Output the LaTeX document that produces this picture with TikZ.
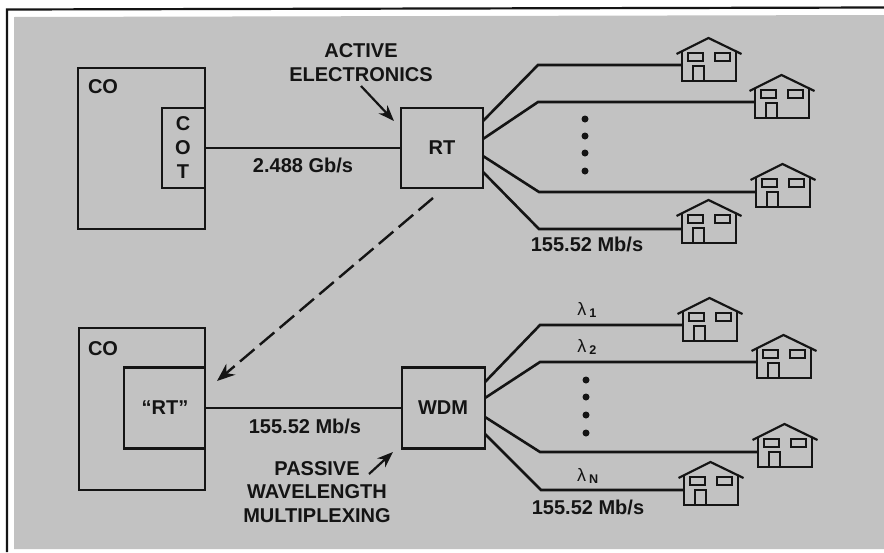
\documentclass[tikz,border=0pt]{standalone}
\usepackage{fontspec}
\setmainfont{Liberation Sans}
\usetikzlibrary{arrows.meta,calc}
\definecolor{paper}{gray}{0.76}
\definecolor{ink}{gray}{0.08}
\tikzset{
  wire/.style={draw=ink,line width=2.6pt,line join=miter},
  boxn/.style={draw=ink,line width=2.6pt,inner sep=0pt,outer sep=0pt,minimum width=#1},
  lab/.style={font=\fontsize{20}{23.5}\selectfont\bfseries,text=ink,inner sep=0pt,align=center},
  lam/.style={font=\fontsize{18}{20}\selectfont,text=ink,inner sep=0pt},
  dotn/.style={circle,fill=ink,minimum size=7pt,inner sep=0pt},
  pointer/.style={draw=ink,line width=2.2pt,-{Stealth[length=16pt,width=12pt]}},
  dashptr/.style={draw=ink,line width=2.4pt,dash pattern=on 19pt off 7pt,-{Stealth[length=18pt,width=14pt]}}
}
% house: #1 name, #2 x, #3 y of bottom-left wall corner; wall attach point = coordinate #1
\newcommand{\homeicon}[3]{%
  \begin{scope}[shift={(#2,#3)}]
    \draw[wire,line width=2.2pt] (0,-29) -- (0,0) -- (54,0) -- (54,-29);
    \draw[wire,line width=2.2pt] (-5.5,-27) -- (26.5,-43) -- (59.5,-27);
    \draw[wire,line width=2pt] (5.7,-28) rectangle (21,-20);
    \draw[wire,line width=2pt] (32.7,-28) rectangle (47.7,-20);
    \draw[wire,line width=2pt] (10.7,0) -- (10.7,-15) -- (21.7,-15) -- (21.7,0);
  \end{scope}}
\begin{document}
\begin{tikzpicture}[x=1pt,y=-1pt]
\useasboundingbox (0,0) rectangle (884,552);
\fill[white] (0,0) rectangle (884,552);
\fill[paper] (14,17) -- (884,15) -- (884,549) -- (14,549) -- cycle;
\draw[ink,line width=2.2pt] (7,552) -- (7,9.5) -- (884,7.5);

% top row
\node[boxn=127pt,minimum height=161pt] (coa) at (141.5,148.5) {};
\node[boxn=43pt,minimum height=80pt] (cot) at (183.5,148) {};
\node[boxn=82pt,minimum height=80pt] (rta) at (442,148) {};
\node[lab] (coal) at (103,87) {CO};
\node[lab] (cotc) at (183,124) {C};
\node[lab] (coto) at (183,148) {O};
\node[lab] (cott) at (183,172) {T};
\node[lab] (rtal) at (442,148) {RT};
\node[lab] (act) at (361,62.5) {ACTIVE\\ELECTRONICS};
\node[lab] (rate1) at (303,165) {2.488 Gb/s};
\node[lab] (rate2) at (587,244) {155.52 Mb/s};
\draw[wire] (cot.east) -- (rta.west);
\coordinate (ptra) at (361,86);
\coordinate (ptrb) at (394,121);
\draw[pointer] (ptra) -- (ptrb);

\homeicon{h1}{682}{81}
\homeicon{h2}{755}{118}
\homeicon{h3}{756}{207}
\homeicon{h4}{682}{243}
\coordinate (h1) at (682,65); \coordinate (h2) at (755,102);
\coordinate (h3) at (756,192); \coordinate (h4) at (682,229);
\coordinate (a1) at (483,121); \coordinate (a2) at (483,139);
\coordinate (a3) at (483,156); \coordinate (a4) at (483,172);
\draw[wire] (a1) -- (538,65) -- (h1);
\draw[wire] (a2) -- (538,102) -- (h2);
\draw[wire] (a3) -- (539,192) -- (h3);
\draw[wire] (a4) -- (539,229) -- (h4);
\node[dotn] (d1) at (585,119) {};
\node[dotn] (d2) at (585,136) {};
\node[dotn] (d3) at (585,153) {};
\node[dotn] (d4) at (585,171) {};

% dashed move arrow
\coordinate (mva) at (433,198);
\coordinate (mvb) at (217,381);
\draw[dashptr] (mva) -- (mvb);

% bottom row
\node[boxn=126pt,minimum height=162pt] (cob) at (142,409) {};
\node[boxn=81pt,minimum height=81pt] (rtb) at (164.5,408) {};
\node[boxn=83pt,minimum height=81pt] (wdm) at (443.5,408) {};
\node[lab] (cobl) at (103,349) {CO};
\node[lab] (rtbl) at (165,408) {“RT”};
\node[lab] (wdml) at (443,408) {WDM};
\node[lab] (rate3) at (305,426) {155.52 Mb/s};
\node[lab] (pas) at (317,492) {PASSIVE\\WAVELENGTH\\MULTIPLEXING};
\node[lab] (rate4) at (588,507) {155.52 Mb/s};
\draw[wire] (rtb.east) -- (wdm.west);
\coordinate (ptrc) at (369,474);
\coordinate (ptrd) at (393,452);
\draw[pointer] (ptrc) -- (ptrd);

\homeicon{h5}{683}{341}
\homeicon{h6}{757}{378}
\homeicon{h7}{758}{467}
\homeicon{h8}{684}{505}
\coordinate (h5) at (683,325); \coordinate (h6) at (757,362);
\coordinate (h7) at (758,452); \coordinate (h8) at (684,490);
\coordinate (b1) at (485,382); \coordinate (b2) at (485,398);
\coordinate (b3) at (485,417); \coordinate (b4) at (485,434);
\draw[wire] (b1) -- (540,325) -- (h5);
\draw[wire] (b2) -- (540,362) -- (h6);
\draw[wire] (b3) -- (540,452) -- (h7);
\draw[wire] (b4) -- (541,490) -- (h8);
\node[dotn] (d5) at (586,380) {};
\node[dotn] (d6) at (586,397) {};
\node[dotn] (d7) at (586,415) {};
\node[dotn] (d8) at (586,433) {};
\node[lam] (l1) at (587,310) {λ\,$_{\mathbf{1}}$};
\node[lam] (l2) at (587,347) {λ\,$_{\mathbf{2}}$};
\node[lam] (ln) at (588,476) {λ\,$_{\mathbf{N}}$};
\end{tikzpicture}
\end{document}
